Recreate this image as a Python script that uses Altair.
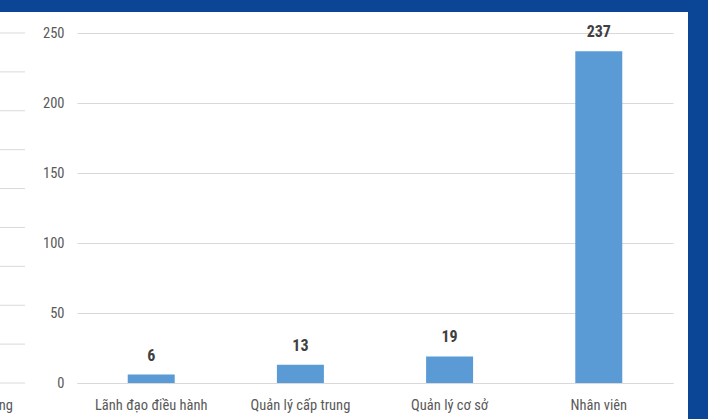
import altair as alt
import pandas as pd

categories = ["Lãnh đạo điều hành", "Quản lý cấp trung", "Quản lý cơ sở", "Nhân viên"]
values = [6, 13, 19, 237]
y_ticks = [0, 50, 100, 150, 200, 250]
neighbor_grid = list(range(10))
neighbor_label = ["ng"]

FONT = "Liberation Sans Narrow, Roboto Condensed, DejaVu Sans Condensed, Roboto"
BLUE_BG = "#0b4595"

df = pd.DataFrame({"cat": categories, "val": values})

x_scale = alt.Scale(domain=categories, paddingInner=0.685, paddingOuter=0.34)
y_scale = alt.Scale(domain=[0, 250], nice=False)

x_enc = alt.X("cat:N", sort=categories, title=None, scale=x_scale,
              axis=alt.Axis(labelAngle=0, labelFont=FONT, labelFontSize=14.5,
                            labelColor="#595959", labelPadding=15, ticks=False,
                            domainColor="#d9d9d9", domainWidth=1))
y_enc = alt.Y("val:Q", title=None, scale=y_scale,
              axis=alt.Axis(values=y_ticks, labelFont=FONT, labelFontSize=14.5,
                            labelColor="#595959", labelPadding=13, ticks=False,
                            domain=False, gridColor="#d9d9d9", gridWidth=1))

frame = pd.DataFrame({"a": [0]})
top_strip = alt.Chart(frame).mark_rect(color=BLUE_BG).encode(
    x=alt.value(-80), x2=alt.value(640), y=alt.value(-40), y2=alt.value(-21)
)
right_strip = alt.Chart(frame).mark_rect(color=BLUE_BG).encode(
    x=alt.value(611), x2=alt.value(640), y=alt.value(-40), y2=alt.value(400)
)

bars = alt.Chart(df).mark_bar(color="#5b9bd5").encode(x=x_enc, y=y_enc)

labels = alt.Chart(df).mark_text(
    font=FONT, fontSize=16, fontWeight="bold", color="#404040", dy=-19,
    baseline="middle"
).encode(
    x=alt.X("cat:N", sort=categories, scale=x_scale, title=None),
    y=alt.Y("val:Q", scale=y_scale, axis=None),
    text="val:Q",
)

neighbor = alt.Chart(pd.DataFrame({"g": neighbor_grid})).mark_rule(
    color="#d9d9d9", strokeWidth=1
).encode(
    x=alt.value(-77), x2=alt.value(-52),
    y=alt.Y("g:Q", scale=alt.Scale(domain=[0, 9], nice=False), axis=None)
)

neighbor_text = alt.Chart(pd.DataFrame({"t": neighbor_label})).mark_text(
    font=FONT, fontSize=14.5, color="#595959", align="right", baseline="middle"
).encode(x=alt.value(-64), y=alt.value(373), text="t:N")

chart = alt.layer(bars, labels, neighbor, neighbor_text, top_strip, right_strip).resolve_scale(
    y="independent"
).properties(
    width=596, height=350,
    autosize=alt.AutoSizeParams(type="none"),
    padding={"left": 77, "top": 33, "right": 35, "bottom": 36},
    background="white",
).configure_view(stroke=None)

chart.save("out.html", embed_options={"renderer": "svg", "actions": False})
